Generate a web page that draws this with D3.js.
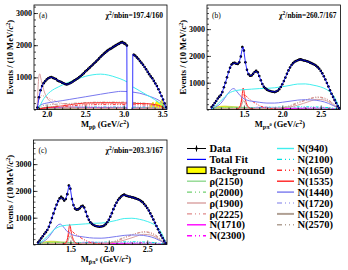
<!DOCTYPE html>
<html>
<head>
<meta charset="utf-8">
<script src="https://cdnjs.cloudflare.com/ajax/libs/d3/7.8.5/d3.min.js"></script>
<style>
  body { margin: 0; background: #fff; }
  svg { display: block; font-family: "Liberation Serif", "DejaVu Serif", serif; font-weight: bold; }
</style>
</head>
<body>
<script>
'use strict'

//---------------------------- DATOS PANEL (a): M(p pbar) ----------------------------//
const massA1 = [1.88, 1.90, 1.92, 1.94, 1.96, 1.98, 2.00, 2.02, 2.04, 2.06,
  2.08, 2.10, 2.12, 2.14, 2.16, 2.18, 2.20, 2.22, 2.24, 2.26,
  2.28, 2.30, 2.32, 2.34, 2.36, 2.38, 2.40, 2.42, 2.44, 2.46,
  2.48, 2.50, 2.52, 2.54, 2.56, 2.58, 2.60, 2.62, 2.64, 2.66,
  2.68, 2.70, 2.72, 2.74, 2.76, 2.78, 2.80, 2.82, 2.84, 2.86,
  2.88, 2.90, 2.92, 2.94, 2.96, 2.98, 3.00, 3.02, 3.04];
const eventsA1 = [60, 380, 600, 730, 820, 880, 935, 970, 995, 1010,
  985, 965, 950, 900, 880, 865, 835, 815, 790, 780,
  795, 815, 840, 870, 905, 935, 965, 1005, 1040, 1080,
  1125, 1180, 1220, 1265, 1310, 1355, 1400, 1445, 1490, 1540,
  1590, 1640, 1685, 1730, 1770, 1815, 1850, 1880, 1905, 1940,
  1970, 2000, 2030, 2050, 2080, 2095, 2065, 2040, 1990];
const massA2 = [3.13, 3.15, 3.17, 3.19, 3.21, 3.23, 3.25, 3.27, 3.29, 3.31,
  3.33, 3.35, 3.37, 3.39, 3.41, 3.43, 3.45, 3.47, 3.49, 3.51, 3.53, 3.55];
const eventsA2 = [1700, 1670, 1620, 1570, 1510, 1450, 1390, 1320, 1250, 1170,
  1100, 1030, 970, 890, 810, 730, 630, 530, 420, 310, 190, 70];

const fitA = [[1.875, 0], [1.88, 60], [1.90, 380], [1.92, 600], [1.94, 730], [1.96, 820], [1.98, 885], [2.00, 935],
  [2.03, 985], [2.06, 1000], [2.09, 980], [2.12, 940], [2.16, 885], [2.20, 835], [2.24, 795], [2.27, 785],
  [2.30, 805], [2.34, 865], [2.40, 965], [2.46, 1080], [2.52, 1220], [2.60, 1400], [2.68, 1590], [2.76, 1770],
  [2.84, 1910], [2.90, 2000], [2.96, 2070], [2.99, 2080], [3.02, 2040], [3.04, 1990], [3.042, 0], null,
  [3.115, 0], [3.117, 1710], [3.15, 1670], [3.21, 1510], [3.27, 1320], [3.33, 1100], [3.39, 890], [3.45, 630],
  [3.49, 420], [3.53, 190], [3.55, 60], [3.555, 0]];
const bkgA = [[1.875, 0], [1.95, 40], [2.10, 50], [2.40, 45], [2.80, 40], [3.04, 40], null, [3.12, 40], [3.30, 60],
  [3.35, 110], [3.38, 230], [3.40, 140], [3.43, 270], [3.46, 190], [3.49, 290], [3.52, 150], [3.555, 0]];
const aN940 = [[1.875, 0], [1.90, 60], [1.93, 200], [1.96, 330], [2.00, 450], [2.05, 560], [2.10, 640], [2.15, 700],
  [2.20, 760], [2.30, 860], [2.40, 950], [2.50, 1030], [2.60, 1080], [2.70, 1100], [2.80, 1070], [2.90, 1000],
  [3.00, 910], [3.04, 860], null, [3.12, 700], [3.20, 590], [3.30, 450], [3.40, 310], [3.46, 210], [3.51, 110], [3.555, 0]];
const aN1440 = [[1.875, 0], [1.90, 100], [1.95, 170], [2.00, 200], [2.10, 240], [2.20, 275], [2.30, 315], [2.40, 355],
  [2.50, 395], [2.60, 435], [2.70, 475], [2.80, 515], [2.90, 550], [2.96, 565], [3.04, 560], null,
  [3.12, 540], [3.20, 510], [3.30, 440], [3.40, 350], [3.46, 280], [3.50, 200], [3.53, 110], [3.555, 0]];
const aRho1900 = [[1.875, 0], [1.88, 300], [1.89, 780], [1.90, 1060], [1.91, 1110], [1.92, 1010], [1.94, 800],
  [1.96, 620], [1.98, 480], [2.00, 380], [2.05, 240], [2.10, 160], [2.15, 110], [2.20, 80], [2.30, 55], [2.50, 35],
  [2.80, 25], [3.04, 20], null, [3.12, 20], [3.40, 15], [3.555, 0]];
const aRho2225 = [[1.875, 0], [1.90, 300], [1.93, 430], [1.96, 420], [2.00, 380], [2.05, 320], [2.10, 270],
  [2.15, 225], [2.20, 190], [2.30, 160], [2.40, 165], [2.60, 180], [2.80, 190], [3.04, 180], null,
  [3.12, 170], [3.30, 140], [3.45, 90], [3.555, 0]];
const aN2570 = [[1.875, 0], [1.95, 120], [2.10, 160], [2.40, 200], [2.70, 230], [3.04, 230], null,
  [3.12, 220], [3.35, 170], [3.50, 80], [3.555, 0]];
const aN1535 = [[1.875, 0], [1.95, 40], [2.10, 80], [2.20, 110], [2.30, 150], [2.40, 180], [2.50, 200], [2.70, 210],
  [2.90, 210], [3.04, 200], null, [3.12, 190], [3.30, 180], [3.45, 130], [3.52, 60], [3.555, 0]];
const aN1650 = [[1.875, 0], [2.00, 60], [2.20, 90], [2.40, 130], [2.60, 150], [2.80, 160], [3.04, 150], null,
  [3.12, 150], [3.30, 140], [3.45, 100], [3.555, 0]];
const aN1520 = [[1.875, 0], [2.00, 30], [2.50, 40], [3.04, 45], null, [3.12, 45], [3.40, 40], [3.555, 0]];
const aN1710 = [[1.875, 0], [2.00, 50], [2.30, 70], [2.70, 60], [3.04, 50], null, [3.12, 50], [3.40, 40], [3.555, 0]];
const aN2300 = [[1.875, 0], [2.10, 30], [2.50, 50], [3.04, 40], null, [3.12, 40], [3.555, 0]];
const aN2100 = [[1.875, 0], [2.00, 40], [2.40, 60], [2.80, 70], [3.04, 60], null, [3.12, 60], [3.40, 50], [3.555, 0]];
const aN1720 = [[1.875, 0], [2.00, 60], [2.40, 90], [2.80, 100], [3.04, 100], null, [3.12, 100], [3.40, 80], [3.555, 0]];
const aRho2150 = [[1.875, 0], [1.95, 60], [2.10, 80], [2.40, 70], [2.80, 60], [3.04, 50], null, [3.12, 50], [3.555, 0]];
const aRho2000 = [[1.875, 0], [1.95, 40], [2.20, 60], [2.60, 50], [3.04, 40], null, [3.12, 40], [3.555, 0]];

//---------------------------- DATOS PANELES (b) y (c): M(p pi0) ----------------------------//
const massPi = [1.08, 1.10, 1.12, 1.14, 1.16, 1.18, 1.20, 1.22, 1.24, 1.26,
  1.28, 1.30, 1.32, 1.34, 1.36, 1.38, 1.40, 1.42, 1.44, 1.46,
  1.48, 1.50, 1.52, 1.54, 1.56, 1.58, 1.60, 1.62, 1.64, 1.66,
  1.68, 1.70, 1.72, 1.74, 1.76, 1.78, 1.80, 1.82, 1.84, 1.86,
  1.88, 1.90, 1.92, 1.94, 1.96, 1.98, 2.00, 2.02, 2.04, 2.06,
  2.08, 2.10, 2.12, 2.14, 2.16, 2.18, 2.20, 2.22, 2.24, 2.26,
  2.28, 2.30, 2.32, 2.34, 2.36, 2.38, 2.40, 2.42, 2.44, 2.46,
  2.48, 2.50, 2.52, 2.54, 2.56, 2.58, 2.60, 2.62, 2.64, 2.66,
  2.68, 2.70, 2.72, 2.74];
const eventsB = [90, 160, 240, 320, 410, 480, 540, 650, 830, 1000,
  1200, 1400, 1560, 1680, 1730, 1740, 1710, 1700, 1760, 1980,
  2330, 2200, 1760, 1480, 1320, 1260, 1270, 1330, 1400, 1440,
  1390, 1250, 1090, 950, 850, 790, 740, 710, 690, 670,
  660, 650, 670, 700, 760, 840, 940, 1060, 1190, 1330,
  1460, 1570, 1660, 1730, 1780, 1810, 1840, 1860, 1870, 1850,
  1830, 1820, 1800, 1780, 1750, 1730, 1700, 1670, 1630, 1580,
  1520, 1440, 1350, 1240, 1120, 990, 860, 720, 590, 470,
  350, 240, 130, 50];
const eventsC = [80, 150, 230, 310, 390, 460, 540, 660, 820, 990,
  1160, 1330, 1480, 1620, 1720, 1780, 1720, 1640, 1700, 1880,
  2200, 2080, 1700, 1470, 1340, 1300, 1310, 1350, 1420, 1440,
  1380, 1220, 1050, 920, 830, 770, 730, 700, 680, 670,
  660, 670, 680, 710, 760, 830, 920, 1040, 1170, 1320,
  1450, 1560, 1660, 1730, 1790, 1840, 1860, 1830, 1810, 1790,
  1780, 1760, 1750, 1730, 1710, 1690, 1660, 1620, 1580, 1510,
  1440, 1360, 1270, 1160, 1050, 930, 810, 690, 570, 450,
  340, 240, 140, 50];

const fitB = [[1.075, 0], [1.08, 80], [1.10, 160], [1.12, 240], [1.14, 320], [1.16, 400], [1.18, 480], [1.20, 550],
  [1.22, 660], [1.24, 830], [1.26, 1000], [1.28, 1190], [1.30, 1390], [1.32, 1560], [1.34, 1670], [1.36, 1720],
  [1.38, 1730], [1.40, 1710], [1.42, 1710], [1.44, 1780], [1.46, 1990], [1.48, 2300], [1.49, 2330], [1.50, 2180],
  [1.52, 1750], [1.54, 1470], [1.56, 1320], [1.58, 1265], [1.60, 1275], [1.62, 1330], [1.64, 1400], [1.66, 1430],
  [1.68, 1380], [1.70, 1250], [1.72, 1090], [1.74, 950], [1.76, 850], [1.80, 740], [1.85, 680], [1.90, 655],
  [1.94, 700], [1.98, 840], [2.02, 1060], [2.06, 1330], [2.10, 1570], [2.14, 1730], [2.18, 1810], [2.22, 1855],
  [2.26, 1850], [2.30, 1820], [2.36, 1750], [2.42, 1670], [2.46, 1580], [2.50, 1440], [2.54, 1240], [2.58, 990],
  [2.62, 720], [2.66, 470], [2.70, 240], [2.74, 50], [2.75, 0]];
const fitC = [[1.075, 0], [1.08, 75], [1.10, 150], [1.12, 230], [1.14, 310], [1.16, 390], [1.18, 465], [1.20, 545],
  [1.22, 660], [1.24, 820], [1.26, 990], [1.28, 1160], [1.30, 1330], [1.32, 1480], [1.34, 1620], [1.36, 1710],
  [1.38, 1750], [1.40, 1710], [1.42, 1660], [1.44, 1710], [1.46, 1890], [1.48, 2180], [1.49, 2210], [1.50, 2070],
  [1.52, 1700], [1.54, 1470], [1.56, 1345], [1.58, 1300], [1.60, 1310], [1.62, 1350], [1.64, 1415], [1.66, 1430],
  [1.68, 1370], [1.70, 1220], [1.72, 1050], [1.74, 920], [1.76, 830], [1.80, 730], [1.85, 675], [1.90, 665],
  [1.94, 710], [1.98, 830], [2.02, 1040], [2.06, 1320], [2.10, 1560], [2.14, 1730], [2.18, 1830], [2.21, 1845],
  [2.26, 1795], [2.30, 1765], [2.36, 1710], [2.42, 1620], [2.46, 1510], [2.50, 1360], [2.54, 1160], [2.58, 930],
  [2.62, 690], [2.66, 450], [2.70, 240], [2.74, 50], [2.75, 0]];

const bkgB = [[1.075, 0], [1.10, 60], [1.15, 100], [1.20, 120], [1.25, 130], [1.30, 120], [1.35, 110], [1.40, 100],
  [1.45, 90], [1.50, 80], [1.60, 60], [1.80, 40], [2.00, 30], [2.30, 25], [2.60, 15], [2.75, 0]];
const bkgC = [[1.075, 0], [1.10, 50], [1.15, 90], [1.20, 115], [1.25, 125], [1.30, 120], [1.35, 105], [1.40, 95],
  [1.45, 85], [1.50, 75], [1.60, 55], [1.80, 40], [2.00, 30], [2.30, 25], [2.60, 15], [2.75, 0]];

const bN940 = [[1.075, 0], [1.10, 60], [1.15, 180], [1.20, 320], [1.25, 470], [1.30, 600], [1.35, 670], [1.40, 710],
  [1.50, 740], [1.60, 760], [1.70, 780], [1.80, 790], [1.90, 810], [2.00, 850], [2.10, 900], [2.20, 950],
  [2.30, 955], [2.40, 910], [2.50, 840], [2.58, 740], [2.64, 600], [2.68, 450], [2.71, 280], [2.74, 60], [2.75, 0]];
const cN940 = [[1.075, 0], [1.10, 50], [1.15, 170], [1.20, 300], [1.25, 450], [1.30, 580], [1.35, 660], [1.40, 700],
  [1.50, 730], [1.60, 750], [1.70, 770], [1.80, 790], [1.90, 800], [2.00, 840], [2.10, 900], [2.20, 970],
  [2.30, 980], [2.40, 940], [2.50, 860], [2.58, 760], [2.64, 620], [2.68, 460], [2.71, 290], [2.74, 60], [2.75, 0]];
const bN1440 = [[1.075, 0], [1.10, 40], [1.15, 120], [1.20, 230], [1.25, 420], [1.30, 620], [1.35, 770], [1.37, 780],
  [1.40, 700], [1.45, 520], [1.50, 400], [1.55, 340], [1.60, 310], [1.70, 270], [1.80, 240], [1.90, 240],
  [2.00, 270], [2.10, 310], [2.20, 350], [2.30, 365], [2.40, 355], [2.50, 315], [2.60, 230], [2.66, 150],
  [2.72, 60], [2.75, 0]];
const cN1440 = [[1.075, 0], [1.10, 40], [1.15, 110], [1.20, 220], [1.25, 400], [1.30, 600], [1.35, 750], [1.37, 760],
  [1.40, 690], [1.45, 510], [1.50, 400], [1.55, 340], [1.60, 310], [1.70, 270], [1.80, 240], [1.90, 235],
  [2.00, 260], [2.10, 300], [2.20, 340], [2.30, 355], [2.40, 350], [2.50, 315], [2.60, 235], [2.66, 150],
  [2.72, 60], [2.75, 0]];
const bN1535 = [[1.40, 0], [1.44, 60], [1.46, 200], [1.48, 600], [1.49, 800], [1.50, 710], [1.51, 500], [1.53, 260],
  [1.56, 90], [1.60, 20], [1.65, 0]];
const cN1535 = [[1.40, 0], [1.44, 60], [1.46, 190], [1.48, 560], [1.49, 750], [1.50, 670], [1.51, 480], [1.53, 250],
  [1.56, 85], [1.60, 20], [1.65, 0]];
const bN1650 = [[1.40, 0], [1.44, 90], [1.47, 300], [1.50, 560], [1.52, 530], [1.55, 440], [1.60, 330], [1.65, 230],
  [1.70, 150], [1.75, 90], [1.85, 30], [2.00, 0]];
const cN1650 = [[1.40, 0], [1.44, 80], [1.47, 280], [1.50, 520], [1.52, 500], [1.55, 420], [1.60, 320], [1.65, 225],
  [1.70, 150], [1.75, 90], [1.85, 30], [2.00, 0]];
const bN1520 = [[1.42, 0], [1.46, 80], [1.48, 250], [1.50, 330], [1.52, 220], [1.55, 80], [1.60, 20], [1.65, 0]];
const cN1520 = [[1.42, 0], [1.46, 75], [1.48, 240], [1.50, 320], [1.52, 215], [1.55, 80], [1.60, 20], [1.65, 0]];
const bRho2225 = [[1.90, 0], [2.00, 40], [2.10, 120], [2.20, 230], [2.30, 340], [2.40, 440], [2.45, 470], [2.50, 460],
  [2.60, 360], [2.65, 250], [2.70, 120], [2.75, 0]];
const cRho2225 = [[1.90, 0], [2.00, 40], [2.10, 120], [2.20, 240], [2.30, 350], [2.40, 450], [2.45, 480], [2.50, 470],
  [2.60, 370], [2.65, 260], [2.70, 120], [2.75, 0]];
const bN2570 = [[1.90, 0], [2.00, 60], [2.10, 150], [2.20, 260], [2.30, 360], [2.40, 430], [2.48, 450], [2.55, 400],
  [2.62, 300], [2.68, 170], [2.74, 30], [2.75, 0]];
const cN2570 = [[1.90, 0], [2.00, 60], [2.10, 150], [2.20, 270], [2.30, 370], [2.40, 440], [2.48, 460], [2.55, 410],
  [2.62, 300], [2.68, 170], [2.74, 30], [2.75, 0]];
const bRho1900 = [[1.075, 0], [1.20, 30], [1.50, 40], [1.80, 40], [2.00, 60], [2.20, 160], [2.35, 300], [2.45, 380],
  [2.55, 350], [2.65, 200], [2.72, 50], [2.75, 0]];
const bN2100 = [[1.075, 0], [1.30, 30], [1.60, 60], [2.00, 90], [2.30, 100], [2.60, 70], [2.75, 0]];
const bN1720 = [[1.40, 0], [1.60, 60], [1.75, 100], [1.90, 80], [2.20, 60], [2.50, 40], [2.75, 0]];
const bN1710 = [[1.50, 0], [1.65, 40], [1.72, 70], [1.85, 50], [2.20, 30], [2.75, 0]];
const bN2300 = [[1.90, 0], [2.20, 50], [2.40, 70], [2.60, 50], [2.75, 0]];
const bRho2150 = [[1.075, 0], [1.15, 60], [1.30, 90], [1.50, 70], [1.80, 40], [2.20, 30], [2.60, 20], [2.75, 0]];
const bRho2000 = [[1.075, 0], [1.20, 50], [1.40, 60], [1.70, 40], [2.20, 30], [2.75, 0]];

// etiquetas de ejes
const yTicksA = [1000, 2000, 3000];
const yTicksB = [1000, 2000, 3000];
const xTicksA = [2.0, 2.5, 3.0, 3.5];
const xTicksB = [1.5, 2.0, 2.5];

//---------------------------- ESTILOS ----------------------------//
const dashDot = '3,1.5,1,1.5,1,1.5';
const styles = {
  rho2150: { color: '#8fd98f', dash: null, name: 'ρ(2150)' },
  rho2000: { color: '#70d070', dash: dashDot, name: 'ρ(2000)' },
  rho1900: { color: '#d9a0a0', dash: null, name: 'ρ(1900)' },
  rho2225: { color: '#e08a8a', dash: dashDot, name: 'ρ(2225)' },
  n1710: { color: '#ff00ff', dash: null, name: 'N(1710)' },
  n2300: { color: '#ff00ff', dash: dashDot, name: 'N(2300)' },
  n940: { color: '#40eeee', dash: null, name: 'N(940)' },
  n2100: { color: '#00e0e0', dash: dashDot, name: 'N(2100)' },
  n1650: { color: '#ff3030', dash: dashDot, name: 'N(1650)' },
  n1535: { color: '#ff2020', dash: null, name: 'N(1535)' },
  n1440: { color: '#7878ee', dash: null, name: 'N(1440)' },
  n1720: { color: '#a6a6f0', dash: dashDot, name: 'N(1720)' },
  n1520: { color: '#b0a094', dash: null, name: 'N(1520)' },
  n2570: { color: '#b0a094', dash: dashDot, name: 'N(2570)' }
};

const svg = d3.select('body').append('svg')
  .attr('width', 348)
  .attr('height', 270);

//---------------------------- FUNCION PANEL ----------------------------//
function drawPanel(p) {
  const x = d3.scaleLinear().domain(p.xDom).range([p.left, p.right]);
  const y = d3.scaleLinear().domain(p.yDom).range([p.bottom, p.top]);
  const g = svg.append('g');

  const clipId = 'clip' + p.id;
  svg.append('clipPath').attr('id', clipId)
    .append('rect')
    .attr('x', p.left).attr('y', p.top)
    .attr('width', p.right - p.left).attr('height', p.bottom - p.top);

  const plot = g.append('g').attr('clip-path', 'url(#' + clipId + ')');

  const line = d3.line()
    .defined(d => d !== null)
    .x(d => x(d[0]))
    .y(d => y(d[1]))
    .curve(d3.curveMonotoneX);

  const area = d3.area()
    .defined(d => d !== null)
    .x(d => x(d[0]))
    .y0(y(0))
    .y1(d => y(d[1]))
    .curve(d3.curveMonotoneX);

  // fondo amarillo
  plot.append('path')
    .datum(p.bkg)
    .attr('d', area)
    .attr('fill', '#ffff00')
    .attr('stroke', '#c8b400')
    .attr('stroke-width', 0.5);

  // componentes
  p.curves.forEach(function (c) {
    const st = styles[c.key];
    plot.append('path')
      .datum(c.pts)
      .attr('d', line)
      .attr('fill', 'none')
      .attr('stroke', st.color)
      .attr('stroke-width', 1)
      .attr('stroke-dasharray', st.dash);
  });

  // datos con barras de error
  const pts = [];
  p.data.forEach(function (set) {
    set.m.forEach(function (m, i) { pts.push({ m: m, v: set.v[i] }); });
  });
  plot.selectAll('line.err').data(pts).enter().append('line')
    .attr('x1', d => x(d.m)).attr('x2', d => x(d.m))
    .attr('y1', d => y(d.v - Math.sqrt(d.v)))
    .attr('y2', d => y(d.v + Math.sqrt(d.v)))
    .attr('stroke', '#000').attr('stroke-width', 0.8);
  plot.selectAll('line.hbar').data(pts).enter().append('line')
    .attr('x1', d => x(d.m - 0.01)).attr('x2', d => x(d.m + 0.01))
    .attr('y1', d => y(d.v)).attr('y2', d => y(d.v))
    .attr('stroke', '#000').attr('stroke-width', 1);
  plot.selectAll('circle').data(pts).enter().append('circle')
    .attr('cx', d => x(d.m)).attr('cy', d => y(d.v))
    .attr('r', 1.3).attr('fill', '#000');

  // ajuste total
  plot.append('path')
    .datum(p.fit)
    .attr('d', d3.line().defined(d => d !== null).x(d => x(d[0])).y(d => y(d[1])))
    .attr('fill', 'none')
    .attr('stroke', '#0000ff')
    .attr('stroke-width', 0.8);

  // marco
  g.append('rect')
    .attr('x', p.left).attr('y', p.top)
    .attr('width', p.right - p.left).attr('height', p.bottom - p.top)
    .attr('fill', 'none').attr('stroke', '#000').attr('stroke-width', 0.8);

  // ejes con ticks hacia dentro
  const yMinor = d3.range(0, p.yDom[1], 200);
  const xMinor = d3.range(Math.ceil(p.xDom[0] * 10) / 10, p.xDom[1], 0.1);

  const ay = g.append('g').attr('transform', 'translate(' + p.left + ',0)')
    .call(d3.axisLeft(y).tickValues(p.yTicks).tickSize(-4).tickPadding(2).tickFormat(d3.format('d')));
  g.append('g').attr('transform', 'translate(' + p.left + ',0)')
    .call(d3.axisLeft(y).tickValues(yMinor).tickSize(-2).tickFormat(''));
  const ax = g.append('g').attr('transform', 'translate(0,' + p.bottom + ')')
    .call(d3.axisBottom(x).tickValues(p.xTicks).tickSize(-4).tickPadding(2).tickFormat(d3.format('.1f')));
  g.append('g').attr('transform', 'translate(0,' + p.bottom + ')')
    .call(d3.axisBottom(x).tickValues(xMinor).tickSize(-2).tickFormat(''));

  g.selectAll('.domain').remove();
  g.selectAll('.tick line').attr('stroke', '#000').attr('stroke-width', 0.7);
  g.selectAll('.tick text')
    .attr('font-family', '"Liberation Serif", serif')
    .attr('font-weight', 'bold')
    .attr('font-size', 8)
    .attr('fill', '#000');

  // titulo eje y
  const yt = g.append('text')
    .attr('transform', 'translate(' + (p.left - 21) + ',' + ((p.top + p.bottom) / 2) + ') rotate(-90)')
    .attr('text-anchor', 'middle')
    .attr('font-size', 8.5);
  yt.append('tspan').text('Events / (10 MeV/');
  yt.append('tspan').attr('font-style', 'italic').text('c');
  yt.append('tspan').attr('dy', -3).attr('font-size', 6).text('2');
  yt.append('tspan').attr('dy', 3).text(')');

  // titulo eje x
  const xt = g.append('text')
    .attr('x', p.xTitleX).attr('y', p.bottom + 17)
    .attr('text-anchor', 'middle')
    .attr('font-size', 8.5);
  xt.append('tspan').text('M');
  xt.append('tspan').attr('dy', 2).attr('font-size', 6).text(p.sub);
  if (p.subSup) xt.append('tspan').attr('dy', -3).attr('font-size', 4.5).text(p.subSup);
  xt.append('tspan').attr('dy', p.subSup ? 1 : -2).text(' (GeV/');
  xt.append('tspan').attr('font-style', 'italic').text('c');
  xt.append('tspan').attr('dy', -3).attr('font-size', 6).text('2');
  xt.append('tspan').attr('dy', 3).text(')');

  // etiqueta y chi2
  g.append('text')
    .attr('x', p.left + 5).attr('y', p.top + 13)
    .attr('font-size', 7.5).attr('font-weight', 'normal')
    .text(p.label);
  const ct = g.append('text')
    .attr('x', p.right - 4).attr('y', p.top + 13)
    .attr('text-anchor', 'end')
    .attr('font-size', 7.5);
  ct.append('tspan').text('χ');
  ct.append('tspan').attr('dy', -3).attr('font-size', 5.5).text('2');
  ct.append('tspan').attr('dy', 3).text('/nbin=' + p.chi2);
}

//---------------------------- PANELES ----------------------------//
drawPanel({
  id: 'a', left: 34, right: 167, top: 5, bottom: 109.5,
  xDom: [1.835, 3.561], yDom: [0, 3250],
  xTicks: xTicksA, yTicks: yTicksA,
  sub: 'pp\u0304', subSup: null, xTitleX: 105,
  label: '(a)', chi2: '197.4/160',
  data: [{ m: massA1, v: eventsA1 }, { m: massA2, v: eventsA2 }],
  fit: fitA, bkg: bkgA,
  curves: [
    { key: 'rho2150', pts: aRho2150 }, { key: 'rho2000', pts: aRho2000 },
    { key: 'n1710', pts: aN1710 }, { key: 'n2300', pts: aN2300 },
    { key: 'n2100', pts: aN2100 }, { key: 'n1720', pts: aN1720 },
    { key: 'n1520', pts: aN1520 }, { key: 'n2570', pts: aN2570 },
    { key: 'n1650', pts: aN1650 }, { key: 'n1535', pts: aN1535 },
    { key: 'rho2225', pts: aRho2225 }, { key: 'rho1900', pts: aRho1900 },
    { key: 'n1440', pts: aN1440 }, { key: 'n940', pts: aN940 }
  ]
});

drawPanel({
  id: 'b', left: 207, right: 340.5, top: 5, bottom: 109.5,
  xDom: [1.02, 2.757], yDom: [0, 3900],
  xTicks: xTicksB, yTicks: yTicksB,
  sub: 'pπ', subSup: '0', xTitleX: 280,
  label: '(b)', chi2: '260.7/167',
  data: [{ m: massPi, v: eventsB }],
  fit: fitB, bkg: bkgB,
  curves: [
    { key: 'rho2150', pts: bRho2150 }, { key: 'rho2000', pts: bRho2000 },
    { key: 'n1710', pts: bN1710 }, { key: 'n2300', pts: bN2300 },
    { key: 'n2100', pts: bN2100 }, { key: 'n1720', pts: bN1720 },
    { key: 'rho1900', pts: bRho1900 },
    { key: 'n2570', pts: bN2570 }, { key: 'rho2225', pts: bRho2225 },
    { key: 'n1520', pts: bN1520 }, { key: 'n1650', pts: bN1650 },
    { key: 'n1535', pts: bN1535 }, { key: 'n1440', pts: bN1440 },
    { key: 'n940', pts: bN940 }
  ]
});

drawPanel({
  id: 'c', left: 33.5, right: 167, top: 140, bottom: 244.5,
  xDom: [1.02, 2.757], yDom: [0, 3900],
  xTicks: xTicksB, yTicks: yTicksB,
  sub: 'p\u0304π', subSup: '0', xTitleX: 106,
  label: '(c)', chi2: '203.3/167',
  data: [{ m: massPi, v: eventsC }],
  fit: fitC, bkg: bkgC,
  curves: [
    { key: 'rho2150', pts: bRho2150 }, { key: 'rho2000', pts: bRho2000 },
    { key: 'n1710', pts: bN1710 }, { key: 'n2300', pts: bN2300 },
    { key: 'n2100', pts: bN2100 }, { key: 'n1720', pts: bN1720 },
    { key: 'rho1900', pts: bRho1900 },
    { key: 'n2570', pts: cN2570 }, { key: 'rho2225', pts: cRho2225 },
    { key: 'n1520', pts: cN1520 }, { key: 'n1650', pts: cN1650 },
    { key: 'n1535', pts: cN1535 }, { key: 'n1440', pts: cN1440 },
    { key: 'n940', pts: cN940 }
  ]
});

//---------------------------- LEYENDA ----------------------------//
const legendCol1 = ['data', 'fit', 'bkg', 'rho2150', 'rho2000', 'rho1900', 'rho2225', 'n1710', 'n2300'];
const legendCol2 = ['n940', 'n2100', 'n1650', 'n1535', 'n1440', 'n1720', 'n1520', 'n2570'];

function drawLegend(keys, x0, x1, tx) {
  keys.forEach(function (k, i) {
    const yy = 148.5 + i * 10.9;
    const lg = svg.append('g');
    if (k === 'data') {
      lg.append('line').attr('x1', x0).attr('x2', x1).attr('y1', yy).attr('y2', yy)
        .attr('stroke', '#000').attr('stroke-width', 1);
      lg.append('line').attr('x1', (x0 + x1) / 2).attr('x2', (x0 + x1) / 2).attr('y1', yy - 3).attr('y2', yy + 3)
        .attr('stroke', '#000').attr('stroke-width', 1);
      lg.append('circle').attr('cx', (x0 + x1) / 2).attr('cy', yy).attr('r', 1.3).attr('fill', '#000');
    } else if (k === 'fit') {
      lg.append('line').attr('x1', x0).attr('x2', x1).attr('y1', yy).attr('y2', yy)
        .attr('stroke', '#0000ff').attr('stroke-width', 1.2);
    } else if (k === 'bkg') {
      lg.append('rect').attr('x', x0).attr('y', yy - 3.2).attr('width', x1 - x0).attr('height', 6.4)
        .attr('fill', '#ffff00').attr('stroke', '#000').attr('stroke-width', 1.2);
    } else {
      const st = styles[k];
      lg.append('line').attr('x1', x0).attr('x2', x1).attr('y1', yy).attr('y2', yy)
        .attr('stroke', st.color)
        .attr('stroke-width', k === 'n1520' ? 2 : 1.4)
        .attr('stroke-dasharray', st.dash ? '5,3,1,3,1,3' : null);
    }
    const name = k === 'data' ? 'Data' : k === 'fit' ? 'Total Fit' : k === 'bkg' ? 'Background' : styles[k].name;
    lg.append('text').attr('x', tx).attr('y', yy + 3.6)
      .attr('font-size', 10.5)
      .text(name);
  });
}

drawLegend(legendCol1, 187, 206, 209.5);
drawLegend(legendCol2, 277, 294, 297.5);
</script>
</body>
</html>
